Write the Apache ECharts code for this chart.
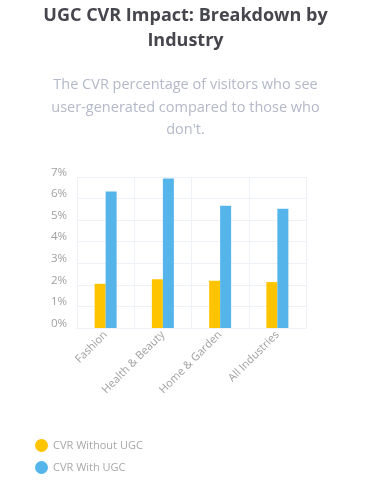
<!DOCTYPE html>
<html><head><meta charset="utf-8">
<script src="https://cdn.jsdelivr.net/npm/echarts@6/dist/echarts.min.js"></script>
<style>html,body{margin:0;padding:0;background:#fff}#c{width:371px;height:480px}</style>
</head><body><div id="c"></div>
<script>
const categories = ["Fashion", "Health & Beauty", "Home & Garden", "All Industries"];
const cvrWithoutUGC = [2.05, 2.26, 2.19, 2.13];
const cvrWithUGC = [6.33, 6.93, 5.67, 5.53];
const seriesNames = ["CVR Without UGC", "CVR With UGC"];
const yTicks = [0, 1, 2, 3, 4, 5, 6, 7];

const legendText = {fontFamily: 'Open Sans', fontSize: 11, color: '#a8a8a8'};
const chart = echarts.init(document.getElementById('c'));
chart.setOption({
  animation: false,
  title: [{
    text: "UGC CVR Impact: Breakdown by\nIndustry",
    left: 'center', top: 3, padding: 0,
    textStyle: {fontFamily: 'Open Sans', fontSize: 18, fontWeight: 'bold', color: '#46464e', lineHeight: 25}
  }, {
    text: "The CVR percentage of visitors who see\nuser-generated compared to those who\ndon't.",
    left: 'center', top: 74, padding: 0,
    textStyle: {fontFamily: 'Open Sans', fontSize: 14.5, fontWeight: 'normal', color: '#b4b8c8', lineHeight: 22.5}
  }],
  legend: [{
    left: 30, top: 434,
    icon: 'circle', itemWidth: 13, itemHeight: 13,
    data: [seriesNames[0]], textStyle: legendText
  }, {
    left: 30, top: 456,
    icon: 'circle', itemWidth: 13, itemHeight: 13,
    data: [seriesNames[1]], textStyle: legendText
  }],
  grid: {left: 77, right: 65, top: 177, bottom: 152, containLabel: false},
  xAxis: {
    type: 'category', data: categories,
    axisLine: {show: true, lineStyle: {color: '#eef2f7'}},
    axisTick: {show: false},
    splitLine: {show: true, lineStyle: {color: '#eef2f7'}},
    axisLabel: {rotate: 45, fontFamily: 'Open Sans', fontSize: 11, color: '#a0a0a0', margin: 5}
  },
  yAxis: {
    type: 'value', min: 0, max: 7, interval: 1,
    axisLine: {show: false}, axisTick: {show: false},
    splitLine: {lineStyle: {color: '#eef2f7'}},
    axisLabel: {formatter: v => yTicks.includes(v) ? v + '%' : '', fontFamily: 'Open Sans', fontSize: 11.5, color: '#a0a0a0', margin: 10, verticalAlign: 'bottom', lineHeight: 9}
  },
  series: [{
    name: seriesNames[0], type: 'bar', data: cvrWithoutUGC,
    itemStyle: {color: '#ffc400'}, barWidth: 11, barGap: '0%'
  }, {
    name: seriesNames[1], type: 'bar', data: cvrWithUGC,
    itemStyle: {color: '#55b4ea'}, barWidth: 11, barGap: '0%'
  }]
});
</script></body></html>
